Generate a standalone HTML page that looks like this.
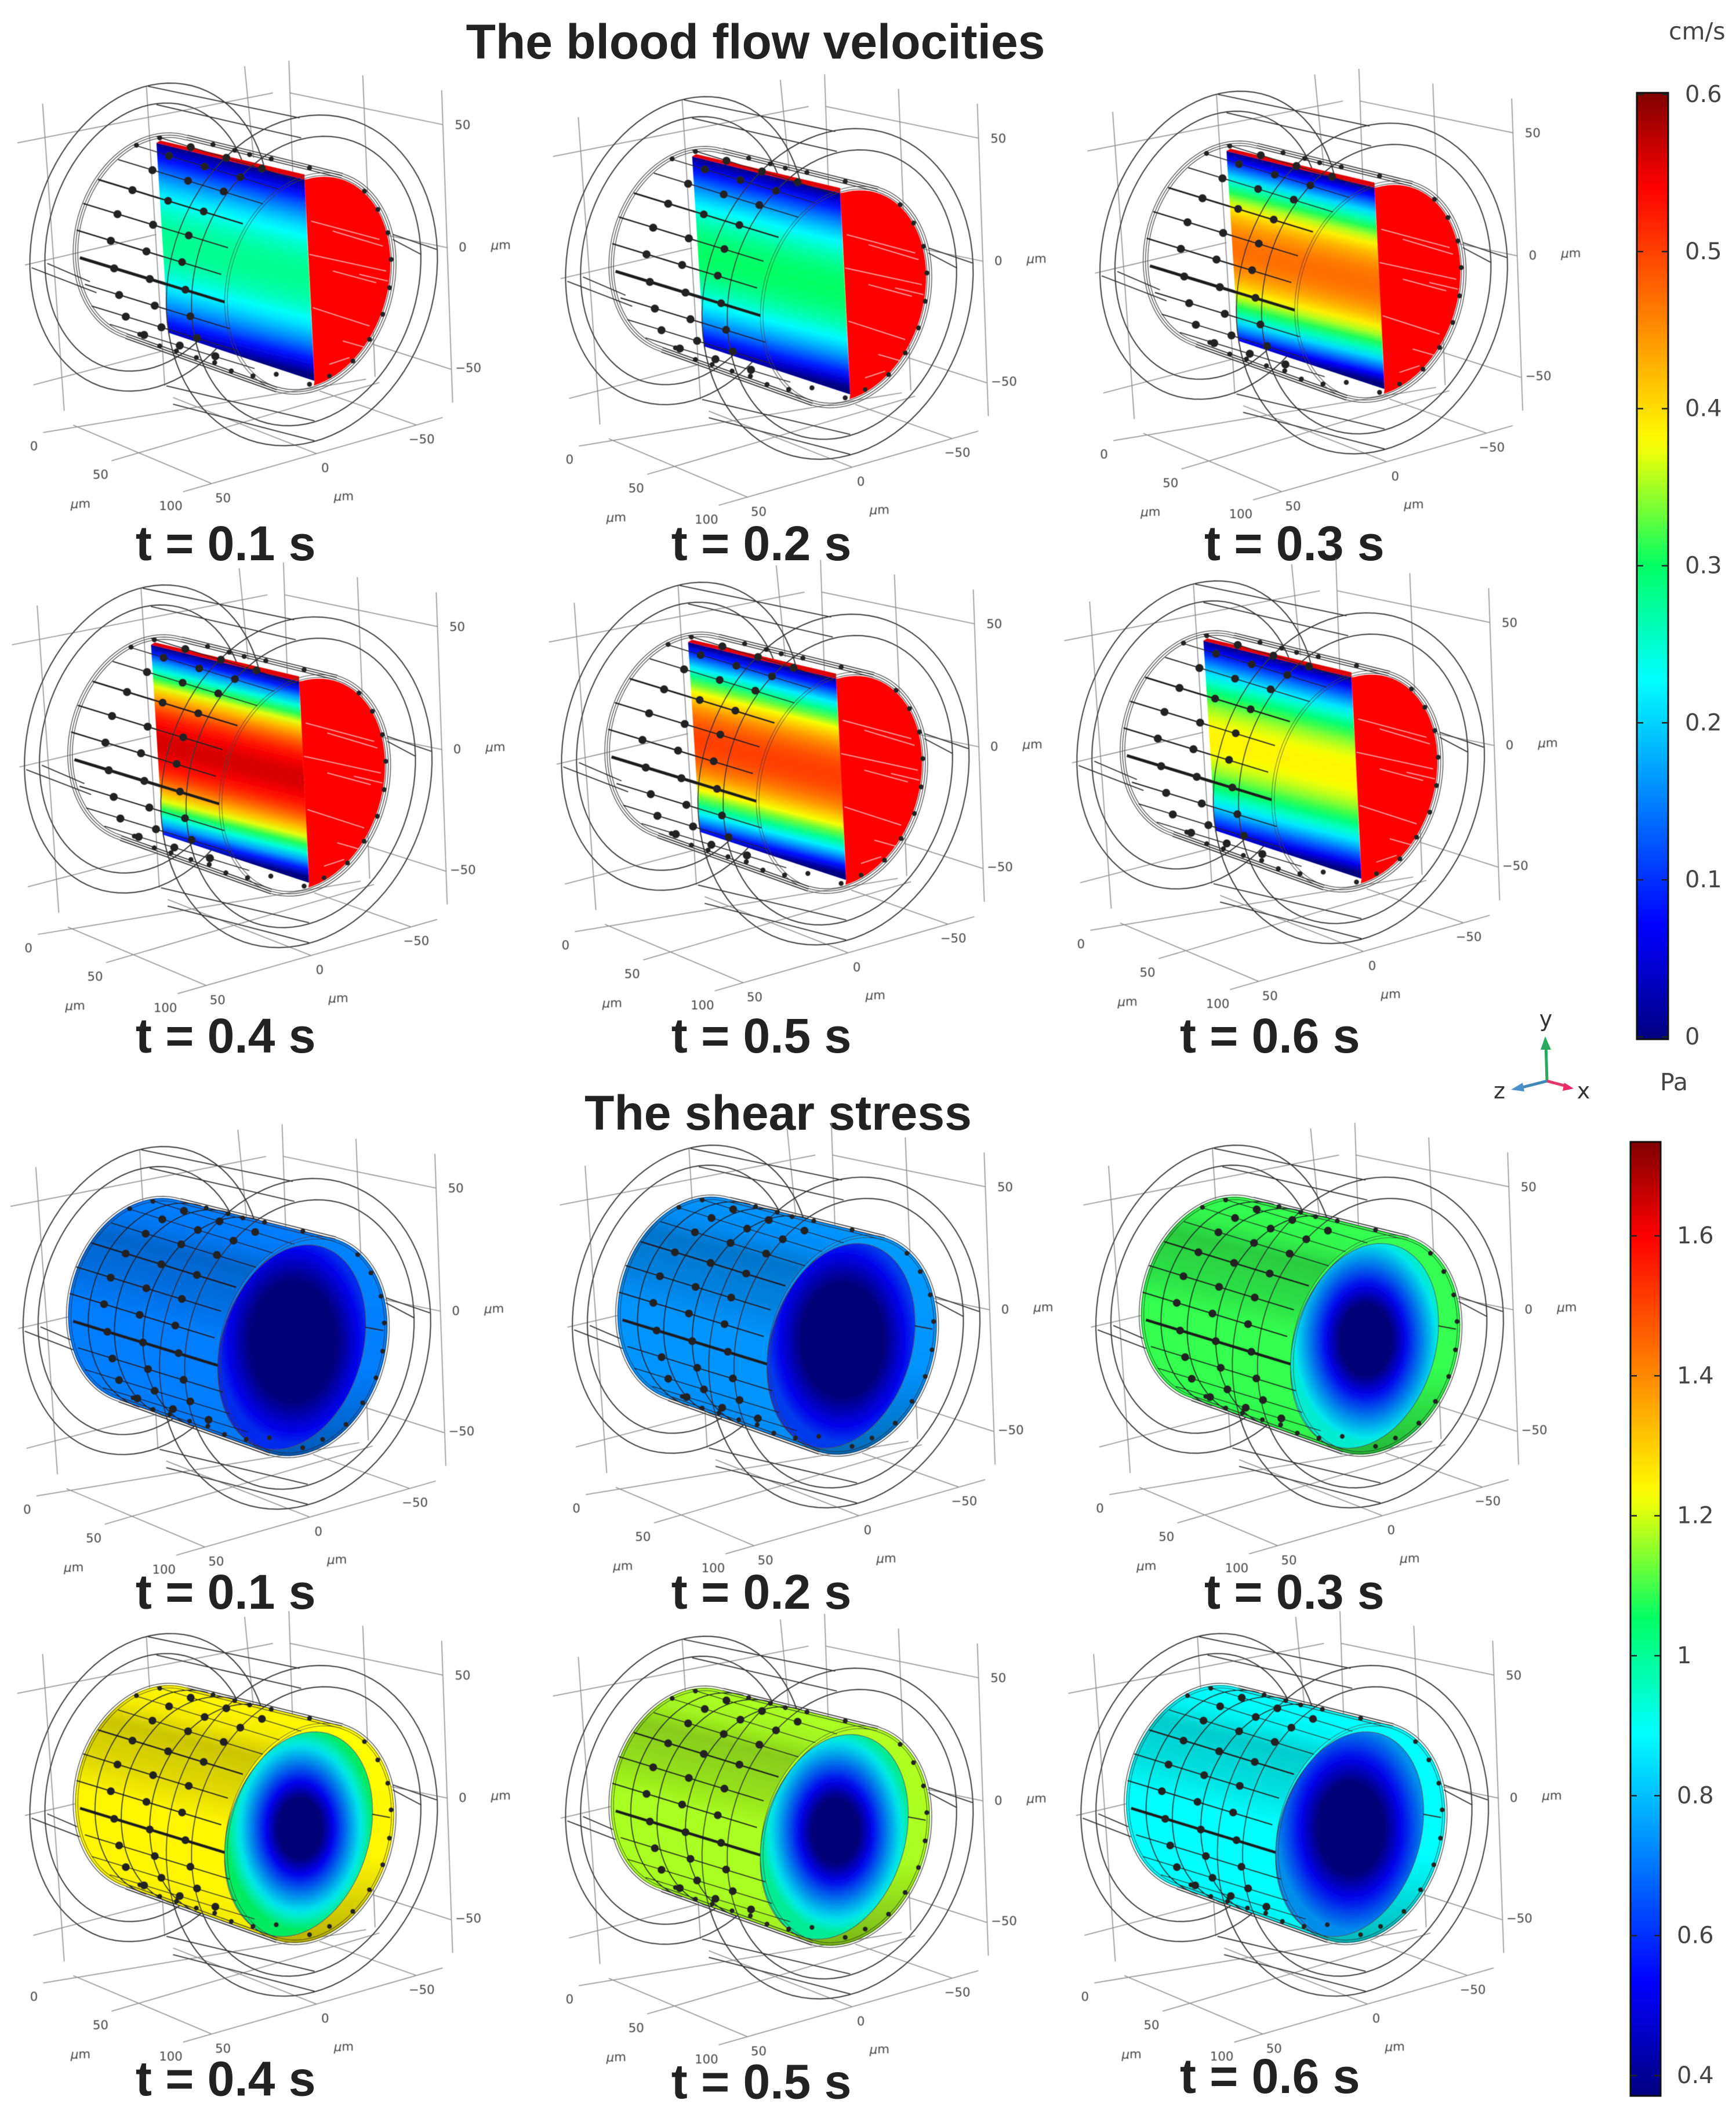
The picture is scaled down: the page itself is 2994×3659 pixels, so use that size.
<!DOCTYPE html>
<html lang="en">
<head>
<meta charset="utf-8">
<title>Blood flow velocities and shear stress</title>
<style>
html,body{margin:0;padding:0;background:#fff}
svg{display:block}
text{font-family:"DejaVu Sans","Liberation Sans",sans-serif}
.big{font-family:"Liberation Sans",sans-serif;font-weight:700;fill:#222}
</style>
</head>
<body>
<svg id="figure" xmlns="http://www.w3.org/2000/svg" width="2994" height="3659" viewBox="0 0 2994 3659">
  <defs id="defs">
    <filter id="soft" filterUnits="userSpaceOnUse" x="-40" y="-80" width="1700" height="1600"><feGaussianBlur stdDeviation="0.7"></feGaussianBlur></filter>
  </defs>
  <rect width="2994" height="3659" fill="#ffffff"></rect>
  <text class="big" x="1303" y="101" font-size="84" text-anchor="middle">The blood flow velocities</text>
  <text class="big" x="1342" y="1948" font-size="84" text-anchor="middle">The shear stress</text>
  <text x="2878" y="68" font-size="41" fill="#444">cm/s</text>
  <text x="2863" y="1880" font-size="41" fill="#444">Pa</text>
  <g>
    <line x1="2668" y1="1864" x2="2666" y2="1800" stroke="#2aa860" stroke-width="5"></line>
    <polygon points="2665,1787 2657,1810 2675,1810" fill="#2aa860"></polygon>
    <line x1="2668" y1="1864" x2="2621" y2="1876" stroke="#3f88b8" stroke-width="5"></line>
    <polygon points="2606,1879 2626,1867 2629,1882" fill="#4a90c8"></polygon>
    <line x1="2668" y1="1864" x2="2702" y2="1873" stroke="#e0386a" stroke-width="5"></line>
    <polygon points="2714,1877 2698,1867 2695,1881" fill="#ee2a68"></polygon>
    <text x="2666" y="1770" font-size="38" fill="#333" text-anchor="middle">y</text>
    <text x="2586" y="1894" font-size="38" fill="#333" text-anchor="middle">z</text>
    <text x="2731" y="1894" font-size="38" fill="#333" text-anchor="middle">x</text>
  </g>
</svg>
<script>
// ---- chart data ----
const velocityTimes = [0.1, 0.2, 0.3, 0.4, 0.5, 0.6];
const velocityPeak = [0.28, 0.30, 0.47, 0.56, 0.50, 0.385];
const shearTimes = [0.1, 0.2, 0.3, 0.4, 0.5, 0.6];
const shearWall = [0.73, 0.76, 1.10, 1.25, 1.18, 0.905];
const velocityTicks = [0, 0.1, 0.2, 0.3, 0.4, 0.5, 0.6];
const shearTicks = [0.4, 0.6, 0.8, 1, 1.2, 1.4, 1.6];
const velocityRange = [0, 0.6];
const shearRange = [0.4, 1.73];
const colorPositions = [0, 0.12, 0.38, 0.5, 0.63, 0.9, 1];
const colorReds = [0, 0, 0, 0, 255, 255, 128];
const colorGreens = [0, 0, 255, 255, 255, 0, 0];
const colorBlues = [128, 255, 255, 100, 0, 0, 0];

const NS = 'http://www.w3.org/2000/svg';
const root = document.getElementById('figure');
const defs = document.getElementById('defs');

function add(parent, tag, attrs, name) {
  const el = document.createElementNS(NS, tag);
  for (const k in attrs) el.setAttribute(k, attrs[k]);
  
  
  parent.appendChild(el);
  return el;
}
function addDef(tag, attrs) {
  const el = document.createElementNS(NS, tag);
  for (const k in attrs) el.setAttribute(k, attrs[k]);
  defs.appendChild(el);
  return el;
}
function colormap(t) {
  t = Math.max(0, Math.min(1, t));
  let i = 0;
  while (i < colorPositions.length - 2 && t > colorPositions[i + 1]) i++;
  const f = (t - colorPositions[i]) / (colorPositions[i + 1] - colorPositions[i]);
  return [
    colorReds[i] + (colorReds[i + 1] - colorReds[i]) * f,
    colorGreens[i] + (colorGreens[i + 1] - colorGreens[i]) * f,
    colorBlues[i] + (colorBlues[i + 1] - colorBlues[i]) * f
  ];
}
function css(c, k) {
  k = k === undefined ? 1 : k;
  return 'rgb(' + c.map(v => Math.max(0, Math.min(255, Math.round(v * k)))).join(',') + ')';
}
function norm(v, range) { return (v - range[0]) / (range[1] - range[0]); }
function addStop(grad, offset, color) {
  const s = document.createElementNS(NS, 'stop');
  s.setAttribute('offset', offset);
  s.setAttribute('stop-color', color);
  grad.appendChild(s);
}

// ---- tube geometry (panel space) ----
const TILT = 17 * Math.PI / 180;
const endL = {cx: 470, cy: 537, rx: 238, ry: 313};
const endR = {cx: 930, cy: 675, rx: 246, ry: 337};
function lerpEnd(f, dr) {
  dr = dr || 0;
  return {
    cx: endL.cx + (endR.cx - endL.cx) * f,
    cy: endL.cy + (endR.cy - endL.cy) * f,
    rx: endL.rx + (endR.rx - endL.rx) * f - dr,
    ry: endL.ry + (endR.ry - endL.ry) * f - dr
  };
}
function pt(e, deg) {
  const a = deg * Math.PI / 180;
  const x = e.rx * Math.cos(a), y = e.ry * Math.sin(a);
  return [e.cx + x * Math.cos(TILT) - y * Math.sin(TILT), e.cy + x * Math.sin(TILT) + y * Math.cos(TILT)];
}
function arcPath(e, d0, d1, close) {
  let d = '';
  const n = Math.max(8, Math.round(Math.abs(d1 - d0) / 4));
  for (let i = 0; i <= n; i++) {
    const p = pt(e, d0 + (d1 - d0) * i / n);
    d += (i ? 'L' : 'M') + p[0].toFixed(1) + ',' + p[1].toFixed(1);
  }
  return d + (close ? 'Z' : '');
}
function hullPath() {
  return 'M' + pt(endL, 270) + 'L' + pt(endR, 270) + 'L' + pt(endR, 90) + 'L' + pt(endL, 90) + 'Z';
}

const gridLines = [
  [128,137,193,1060],[440,85,495,985],[735,25,762,300],[868,8,880,360],[1090,52,1127,958],[1327,97,1360,1035],
  [52,255,820,105],[872,105,1330,200],[75,622,470,530],[1150,530,1345,570],[100,982,490,880],[1120,860,1355,935],
  [130,1125,1100,965],[335,1210,1140,975],[550,1303,1330,1080],[220,1103,635,1278],[520,1020,950,1188],[960,1000,1250,1102]
];
const boxLines = [
  [445,85,900,180],[470,140,905,240],[95,630,290,705],[142,617,270,672],[500,985,945,1090],[520,1040,945,1150],
  [1180,530,1312,575],[1180,545,1265,590]
];
const wireAnchors = [
  [405,262,2.6],[470,236,2.6],[355,305,3.2],[295,365,5],[250,437,4],[230,517,4.2],[240,600,9],[255,680,3.6],[275,745,3],[330,800,2.6]
];
const rimDots = [
  [420,830],[480,865],[530,880],[590,900],[645,915],[695,940],[760,955],[830,950],[930,980],
  [410,262],[480,240],[640,260],[705,277],[750,290],[815,303],[930,330],
  [1095,400],[1135,455],[1165,525],[1175,605],[1170,690],[1150,770],[1110,845],[1060,910],[990,955]
];
const streaks = [[935,490,1140,545],[930,590,1160,640],[1000,520,1150,565],[1080,650,1165,670],[940,750,1110,805],[1030,850,1100,870],[1000,640,1130,675],[990,920,1050,900]];

function drawBase(g) {
  const grid = add(g, 'g', {stroke: '#8a8a8a', 'stroke-width': 2.6, fill: 'none'}, 'axis-grid');
  gridLines.forEach(s => add(grid, 'line', {x1: s[0], y1: s[1], x2: s[2], y2: s[3]}, 'grid-line'));
  const box = add(g, 'g', {stroke: '#2a2a2a', 'stroke-width': 3, fill: 'none'}, 'domain-edges');
  boxLines.forEach(s => add(box, 'line', {x1: s[0], y1: s[1], x2: s[2], y2: s[3]}, 'domain-edge'));
  add(g, 'path', {d: arcPath({cx: 450, cy: 538, rx: 348, ry: 472}, 0, 360, true), fill: 'none', stroke: '#2e2e2e', 'stroke-width': 3.2}, 'outer-ring-back');
  add(g, 'path', {d: arcPath({cx: 445, cy: 538, rx: 299, ry: 411}, 0, 360, true), fill: 'none', stroke: '#2e2e2e', 'stroke-width': 3.2}, 'inner-ring-back');
}
function drawFrontRings(g) {
  add(g, 'path', {d: arcPath({cx: 907, cy: 668, rx: 397, ry: 505}, 0, 360, true), fill: 'none', stroke: '#2e2e2e', 'stroke-width': 3.2}, 'outer-ring-front');
  add(g, 'path', {d: arcPath({cx: 920, cy: 670, rx: 334, ry: 443}, 0, 360, true), fill: 'none', stroke: '#2e2e2e', 'stroke-width': 3.2}, 'inner-ring-front');
}
function drawWires(g) {
  const wires = add(g, 'g', {fill: 'none', stroke: '#1c1c1c'}, 'tube-wires');
  wireAnchors.forEach(a => {
    add(wires, 'line', {x1: a[0], y1: a[1], x2: a[0] + 435, y2: a[1] + 133, 'stroke-width': a[2]}, 'axial-wire');
    for (let k = 1; k <= 3; k++) {
      add(wires, 'circle', {cx: a[0] + 107 * k - 4, cy: a[1] + 32 * k, r: 12, fill: '#242424', stroke: 'none'}, 'wire-node');
    }
  });
  for (let i = 0; i < 3; i++) {
    add(wires, 'path', {d: arcPath(lerpEnd(0, i * 7 - 5), 90, 270), 'stroke-width': 1.8, stroke: '#222'}, 'inlet-rim');
    add(wires, 'path', {d: arcPath(lerpEnd(1, i * 7 - 5), -90, 90), 'stroke-width': 1.8, stroke: '#222'}, 'outlet-rim');
  }
  for (let i = 0; i < 2; i++) {
    add(wires, 'path', {d: arcPath(lerpEnd(1, i * 8), 90, 270), 'stroke-width': 1.6, stroke: '#333'}, 'collar-arc');
  }
  [-6, 1, 8].forEach(off => {
    const p0 = pt(lerpEnd(0, off), 270), p1 = pt(lerpEnd(1, off), 270);
    const q0 = pt(lerpEnd(0, off), 90), q1 = pt(lerpEnd(1, off), 90);
    add(wires, 'line', {x1: p0[0], y1: p0[1], x2: p1[0], y2: p1[1], 'stroke-width': 2.6, stroke: '#2a2a2a'}, 'top-rim-wire');
    add(wires, 'line', {x1: q0[0], y1: q0[1], x2: q1[0], y2: q1[1], 'stroke-width': 3, stroke: '#2a2a2a'}, 'bottom-rim-wire');
  });
  rimDots.forEach(d => add(wires, 'circle', {cx: d[0], cy: d[1], r: 7.5, fill: '#242424', stroke: 'none'}, 'rim-node'));
}
function drawLabels(g) {
  const lab = add(g, 'g', {'font-size': 37, fill: '#444', 'text-anchor': 'middle', 'dominant-baseline': 'central'}, 'axis-labels');
  const items = [
    ['50',1390,202],['0',1390,570],['\u221250',1407,932],['0',102,1167],['50',302,1253],['100',513,1347],
    ['50',670,1323],['0',977,1233],['\u221250',1267,1146]
  ];
  items.forEach(t => {
    const el = add(lab, 'text', {x: t[1], y: t[2]}, 'axis-tick-label');
    el.textContent = t[0];
  });
  [[1505,563],[242,1340],[1033,1317]].forEach(u => {
    const el = add(lab, 'text', {x: u[0], y: u[1]}, 'axis-unit-label');
    const mu = add(el, 'tspan', {'font-style': 'italic'}, 'axis-unit-mu');
    mu.textContent = '\u03bc';
    el.appendChild(document.createTextNode('m'));
  });
}
function panelGroup(layout, name) {
  const g = add(root, 'g', {transform: 'translate(' + layout[0] * 2.339 + ',' + (100 + layout[1] * 2.339) + ') scale(0.574)', filter: 'url(#soft)'}, name);
  return g;
}
function timeLabel(layout, time, name) {
  const el = add(root, 'text', {x: layout[2] * 2.339, y: layout[3] * 2.339 + 28, 'font-size': 84, class: 'big'}, name);
  el.textContent = 't = ' + time.toFixed(1) + ' s';
}

// ---- velocity panels ----
const velocityLayout = [[0,0,100,401],[395,10,495,401],[789,6,888,401],[-4,370,100,764],[392,368,495,764],[772,367,870,764]];
velocityPeak.forEach((peak, i) => {
  const lay = velocityLayout[i];
  const g = panelGroup(lay, 'velocity-panel-' + (i + 1));
  drawBase(g);
  const nx = -0.24, ny = 0.97;
  const grad = addDef('linearGradient', {id: 'vel' + i, gradientUnits: 'userSpaceOnUse', x1: nx * 135, y1: ny * 135, x2: nx * 700, y2: ny * 700});
  for (let k = 0; k <= 24; k++) {
    const s = k / 24, r = 2 * s - 1;
    addStop(grad, s, css(colormap(norm(peak * (1 - r * r), velocityRange))));
  }
  add(g, 'polygon', {points: '470,255 915,365 945,970 505,825', fill: 'url(#vel' + i + ')'}, 'velocity-slice');
  add(g, 'polygon', {points: '470,255 482,248 915,350 915,365', fill: '#e00000'}, 'slice-wall-strip');
  add(g, 'path', {d: 'M915,365' + arcPath(lerpEnd(1, 12), -115, 64).replace('M', 'L') + 'L945,970Z', fill: '#ff0000'}, 'outlet-disc');
  const st = add(g, 'g', {stroke: '#ffb0b0', 'stroke-width': 2}, 'disc-streaks');
  streaks.forEach(s => add(st, 'line', {x1: s[0], y1: s[1], x2: s[2], y2: s[3]}, 'disc-streak'));
  drawFrontRings(g);
  drawWires(g);
  drawLabels(g);
  timeLabel(lay, velocityTimes[i], 'velocity-time-label-' + (i + 1));
});

// ---- shear panels ----
const shearLayout = [[-5,784,100,1174],[400,783,495,1174],[786,783,888,1174],[0,1143,100,1533],[395,1145,495,1535],[775,1143,870,1531]];
const bodyShade = [[0,1],[0.1,0.95],[0.2,0.8],[0.4,0.88],[0.55,1],[0.85,1],[1,0.95]];
const shellShade = [[0,1.05],[0.6,1],[1,0.72]];
shearWall.forEach((wall, i) => {
  const lay = shearLayout[i];
  const g = panelGroup(lay, 'shear-panel-' + (i + 1));
  drawBase(g);
  const wallColor = colormap(norm(wall, shearRange));
  const grad = addDef('linearGradient', {id: 'shr' + i, gradientUnits: 'userSpaceOnUse', x1: -0.24 * 120, y1: 0.97 * 120, x2: -0.24 * 760, y2: 0.97 * 760});
  bodyShade.forEach(s => addStop(grad, s[0], css(wallColor, s[1])));
  const shell = addDef('linearGradient', {id: 'shell' + i, x1: 0, y1: 0, x2: 0, y2: 1});
  shellShade.forEach(s => addStop(shell, s[0], css(wallColor, s[1])));
  const fill = 'url(#shr' + i + ')';
  add(g, 'path', {d: arcPath(endL, 0, 360, true), fill: fill}, 'tube-inlet-cap');
  add(g, 'path', {d: hullPath(), fill: fill}, 'tube-wall');
  add(g, 'path', {d: arcPath(endR, 0, 360, true), fill: 'url(#shell' + i + ')'}, 'tube-outlet-shell');
  const face = addDef('radialGradient', {id: 'face' + i, cx: 0.5, cy: 0.47, r: 0.5, gradientTransform: 'rotate(17 0.5 0.5)'});
  const edge = wall * 0.85;
  for (let k = 0; k <= 20; k++) {
    const r = k / 20;
    const v = Math.max(shearRange[0], edge * Math.pow(r, 0.8));
    addStop(face, r, css(colormap(norm(v, shearRange)), 0.92));
  }
  add(g, 'path', {d: arcPath({cx: 897, cy: 678, rx: 212, ry: 315}, 0, 360, true), fill: 'url(#face' + i + ')', stroke: '#3c4c5c', 'stroke-width': 2}, 'outlet-face');
  add(g, 'line', {x1: 1118, y1: 618, x2: 1172, y2: 628, stroke: '#222', 'stroke-width': 4}, 'shell-wire');
  [0.135, 0.31, 0.5].forEach(f => {
    add(g, 'path', {d: arcPath(lerpEnd(f), 90, 270), fill: 'none', stroke: '#1a2228', 'stroke-width': 3.4}, 'tube-ring');
  });
  drawFrontRings(g);
  drawWires(g);
  drawLabels(g);
  timeLabel(lay, shearTimes[i], 'shear-time-label-' + (i + 1));
});

// ---- colour bars ----
function colorBar(name, x, w, top, bottom, ticks, tickTop, tickBottom, labelX) {
  const id = name + '-gradient';
  const grad = addDef('linearGradient', {id: id, x1: 0, y1: 1, x2: 0, y2: 0});
  for (let k = 0; k <= 50; k++) addStop(grad, k / 50, css(colormap(k / 50)));
  add(root, 'rect', {x: x, y: top, width: w, height: bottom - top, fill: 'url(#' + id + ')', stroke: '#111', 'stroke-width': 3}, name);
  const scale = v => tickBottom + (tickTop - tickBottom) * norm(v, [ticks[0], ticks[ticks.length - 1]]);
  ticks.forEach(t => {
    add(root, 'line', {x1: x, x2: x + 11, y1: scale(t), y2: scale(t), stroke: '#222', 'stroke-width': 2.5}, name + '-tick-left');
    add(root, 'line', {x1: x + w - 11, x2: x + w, y1: scale(t), y2: scale(t), stroke: '#222', 'stroke-width': 2.5}, name + '-tick-right');
    const el = add(root, 'text', {x: labelX, y: scale(t), 'font-size': 40, fill: '#444', 'dominant-baseline': 'central'}, name + '-tick-label');
    el.textContent = String(t);
  });
}
colorBar('velocity-colorbar', 2823, 54, 160, 1792, velocityTicks, 163, 1788, 2906);
colorBar('shear-colorbar', 2812, 52, 1969, 3614, shearTicks, 2131, 3579, 2892);
</script>
</body>
</html>
